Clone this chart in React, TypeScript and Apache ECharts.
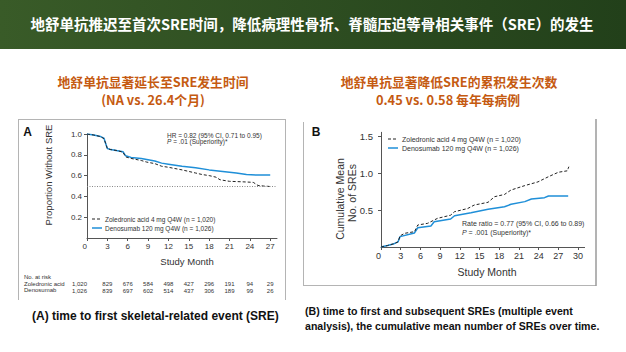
import React, { useEffect, useRef } from "react";
import * as echarts from "echarts";

const headerTitle = "地舒单抗推迟至首次SRE时间，降低病理性骨折、脊髓压迫等骨相关事件（SRE）的发生";
const leftTitle = ["地舒单抗显著延长至SRE发生时间", "(NA vs. 26.4个月)"];
const rightTitle = ["地舒单抗显著降低SRE的累积发生次数", "0.45 vs. 0.58 每年每病例"];
const seriesNames = ["Zoledronic acid 4 mg Q4W (n = 1,020)", "Denosumab 120 mg Q4W (n = 1,026)"];
const captionA = "(A) time to first skeletal-related event (SRE)";
const captionB = [
  "(B) time to first and subsequent SREs (multiple event",
  "analysis), the cumulative mean number of SREs over time.",
];

// Panel A: Kaplan-Meier proportion without SRE
const kmZolMonths = [0, 1, 2, 2.5, 2.8, 3.0, 3.5, 4.5, 5.3, 5.7, 6.5, 8, 8.8, 10, 11, 12, 14, 15, 16, 17, 18, 19, 19.6, 21, 23, 24.5, 25.2, 26, 27];
const kmZolValues = [1.0, 0.99, 0.975, 0.955, 0.9, 0.86, 0.85, 0.84, 0.825, 0.78, 0.765, 0.745, 0.73, 0.715, 0.69, 0.68, 0.655, 0.64, 0.625, 0.61, 0.6, 0.585, 0.56, 0.545, 0.54, 0.535, 0.505, 0.5, 0.495];
const kmDenMonths = [0, 1, 2, 2.5, 2.8, 3.0, 3.5, 4.5, 5.3, 5.7, 6.5, 8, 8.8, 10, 11, 12, 14, 16, 18, 20, 22, 23.5, 25, 27];
const kmDenValues = [1.0, 0.99, 0.975, 0.96, 0.9, 0.86, 0.85, 0.84, 0.83, 0.79, 0.775, 0.765, 0.755, 0.74, 0.72, 0.71, 0.69, 0.675, 0.655, 0.64, 0.625, 0.61, 0.605, 0.605];
const medianLine = 0.5;

// Panel B: cumulative mean number of SREs
const cumZolMonths = [0, 1, 2, 2.6, 2.9, 3.6, 5.1, 5.6, 7.1, 8.6, 10.6, 11.2, 13.2, 14.2, 16.3, 17.3, 18.8, 19.8, 21.9, 23.9, 25.5, 27, 28.4, 28.5, 28.6];
const cumZolValues = [0, 0.02, 0.045, 0.07, 0.15, 0.185, 0.207, 0.297, 0.32, 0.387, 0.43, 0.477, 0.52, 0.567, 0.604, 0.68, 0.71, 0.77, 0.83, 0.88, 0.95, 1.01, 1.03, 1.06, 1.085];
const cumDenMonths = [0, 1, 2, 2.6, 2.9, 5.1, 5.6, 7.6, 8.1, 10.6, 11.2, 13.7, 16.3, 18.8, 19.8, 21.9, 22.9, 24.9, 25.5, 28.5];
const cumDenValues = [0, 0.02, 0.045, 0.07, 0.14, 0.19, 0.26, 0.284, 0.34, 0.378, 0.423, 0.464, 0.509, 0.545, 0.577, 0.613, 0.649, 0.667, 0.69, 0.69];

// Axis ticks
const monthTicksA = [0, 3, 6, 9, 12, 15, 18, 21, 24, 27];
const yTicksA = [0.2, 0.4, 0.6, 0.8, 1.0];
const monthTicksB = [0, 3, 6, 9, 12, 15, 18, 21, 24, 27, 30];
const yTicksB = [0.5, 1.0, 1.5];

// Number at risk
const riskMonths = [0, 3, 6, 9, 12, 15, 18, 21, 24, 27];
const riskZol = ["1,020", "829", "676", "584", "498", "427", "296", "191", "94", "29"];
const riskDen = ["1,026", "839", "697", "602", "514", "437", "306", "189", "99", "26"];

const LAT = "'Liberation Sans', Arial, sans-serif";
const CJK = "'Noto Sans CJK SC', sans-serif";
const BLUE = "#1f8fd8";
const DARK = "#222";
const AXC = "#555";
const TXT = "#333";
const ORANGE = "#c55a11";
const FRAME = "#b4b4b4";

const zip = (a: number[], b: number[]) => a.map((v, i) => [v, b[i]]);

function txt(text: string, x: number, y: number, o: any = {}) {
  const fs = o.fontSize || 8;
  return {
    type: "text",
    x,
    y,
    rotation: o.rotation || 0,
    silent: true,
    style: {
      text,
      fill: o.fill || TXT,
      fontSize: fs,
      fontFamily: o.fontFamily || LAT,
      fontWeight: o.fontWeight || "normal",
      align: o.align || "left",
      verticalAlign: "middle",
      lineHeight: o.lineHeight || Math.round(fs * 1.2),
      rich: o.rich,
    },
  };
}
function ln(x1: number, y1: number, x2: number, y2: number, stroke: string, lineWidth = 1, lineDash?: number[]) {
  return {
    type: "line",
    silent: true,
    shape: { x1, y1, x2, y2 },
    style: { stroke, lineWidth, lineDash },
  };
}

export default function App() {
  const ref = useRef<HTMLDivElement>(null);
  useEffect(() => {
    if (!ref.current) return;
    const chart = echarts.init(ref.current, undefined, { renderer: "svg" });
    const axisLineStyle = { color: AXC, width: 1 };
    const mainX = (grid: number, max: number, ticks: number[], fs: number, margin: number) => ({
      type: "value",
      gridIndex: grid,
      min: 0,
      max,
      axisLine: { show: true, onZero: false, lineStyle: axisLineStyle },
      axisTick: { show: true, length: 3, customValues: ticks, lineStyle: axisLineStyle },
      axisLabel: {
        customValues: ticks,
        fontSize: fs,
        color: TXT,
        fontFamily: LAT,
        margin,
        alignMinLabel: "right",
      },
      splitLine: { show: false },
    });
    const riskX = (vals: string[], offset: number) => ({
      type: "value",
      gridIndex: 0,
      min: 0,
      max: 28,
      position: "bottom",
      offset,
      axisLine: { show: false },
      axisTick: { show: false },
      splitLine: { show: false },
      axisLabel: {
        customValues: riskMonths,
        fontSize: 6,
        color: TXT,
        fontFamily: LAT,
        margin: 2,
        alignMinLabel: "right",
        formatter: (v: number) => vals[riskMonths.indexOf(v)] ?? "",
      },
    });
    const mainY = (grid: number, max: number, ticks: number[], fs: number, margin: number) => ({
      type: "value",
      gridIndex: grid,
      min: 0,
      max,
      axisLine: { show: true, onZero: false, lineStyle: axisLineStyle },
      axisTick: { show: true, length: 3, customValues: ticks, lineStyle: axisLineStyle },
      axisLabel: {
        customValues: ticks,
        fontSize: fs,
        color: TXT,
        fontFamily: LAT,
        margin,
        formatter: (v: number) => v.toFixed(1),
      },
      splitLine: { show: false },
    });

    const header = {
      type: "rect",
      silent: true,
      shape: { x: 0, y: 0, width: 626, height: 49 },
      style: {
        fill: new echarts.graphic.LinearGradient(0, 0, 1, 0, [
          { offset: 0, color: "#395b28" },
          { offset: 1, color: "#22401a" },
        ]),
      },
    };
    const pRich = { i: { fontStyle: "italic", fontSize: 6.5, fontFamily: LAT, fill: TXT } };
    const titleOpt = { fill: ORANGE, fontSize: 12.8, fontWeight: "bold", fontFamily: CJK, align: "center", lineHeight: 15 };

    chart.setOption({
      animation: false,
      backgroundColor: "#ffffff",
      grid: [
        { left: 87, top: 134, width: 190, height: 104 },
        { left: 381, top: 132.3, width: 203.6, height: 114.7 },
      ],
      xAxis: [
        mainX(0, 28, monthTicksA, 8, 4),
        riskX(riskZol, 41),
        riskX(riskDen, 47.5),
        mainX(1, 31, monthTicksB, 9, 4),
      ],
      yAxis: [mainY(0, 1.0, yTicksA, 8, 5), mainY(1, 1.55, yTicksB, 9.5, 8)],
      series: [
        {
          name: seriesNames[0],
          type: "line",
          xAxisIndex: 0,
          yAxisIndex: 0,
          data: zip(kmZolMonths, kmZolValues),
          symbol: "none",
          lineStyle: { color: DARK, width: 1, type: [3, 2] },
          z: 3,
        },
        {
          name: seriesNames[1],
          type: "line",
          xAxisIndex: 0,
          yAxisIndex: 0,
          data: zip(kmDenMonths, kmDenValues),
          symbol: "none",
          lineStyle: { color: BLUE, width: 1.5 },
          z: 2,
          markLine: {
            silent: true,
            symbol: "none",
            label: { show: false },
            lineStyle: { type: [1, 1.5], color: "#888", width: 1 },
            data: [{ yAxis: medianLine }],
          },
        },
        {
          name: seriesNames[0] + " ",
          type: "line",
          xAxisIndex: 3,
          yAxisIndex: 1,
          data: zip(cumZolMonths, cumZolValues),
          symbol: "none",
          lineStyle: { color: DARK, width: 1, type: [3, 2] },
          z: 3,
        },
        {
          name: seriesNames[1] + " ",
          type: "line",
          xAxisIndex: 3,
          yAxisIndex: 1,
          data: zip(cumDenMonths, cumDenValues),
          symbol: "none",
          lineStyle: { color: BLUE, width: 1.5 },
          z: 2,
        },
      ],
      graphic: [
        header,
        txt(headerTitle, 312, 23, { fill: "#ffffff", fontSize: 14.5, fontWeight: "bold", fontFamily: CJK, align: "center" }),
        txt(leftTitle[0], 153, 81, titleOpt),
        txt(leftTitle[1], 153, 99, titleOpt),
        txt(rightTitle[0], 449, 81.5, titleOpt),
        txt(rightTitle[1], 448, 99.5, titleOpt),
        // frames
        ln(18, 119.5, 286, 119.5, FRAME),
        ln(18.5, 119, 18.5, 300, FRAME),
        ln(285.5, 119, 285.5, 300, FRAME),
        ln(303.5, 122, 303.5, 286, FRAME),
        ln(303, 285.5, 596, 285.5, FRAME),
        ln(596, 119, 596, 286, "#9a9a9a", 1.5),
        // panel letters
        txt("A", 27.5, 132, { fontSize: 12, fontWeight: "bold", fill: "#111", align: "center" }),
        txt("B", 316, 132, { fontSize: 12, fontWeight: "bold", fill: "#111", align: "center" }),
        // axis titles
        txt("Proportion Without SRE", 48, 175, { fontSize: 9.5, align: "center", rotation: Math.PI / 2 }),
        txt("Study Month", 187, 261, { fontSize: 9.5, align: "center" }),
        txt("Cumulative Mean", 340, 199, { fontSize: 10.5, align: "center", rotation: Math.PI / 2 }),
        txt("No. of SREs", 352, 193, { fontSize: 10.5, align: "center", rotation: Math.PI / 2 }),
        txt("Study Month", 487, 272, { fontSize: 10.5, align: "center" }),
        // annotations A
        txt("HR = 0.82 (95% CI, 0.71 to 0.95)", 167, 135, { fontSize: 6.5 }),
        txt("{i|P} = .01 (Superiority)*", 167, 141.5, { fontSize: 6.5, rich: pRich }),
        // legend A
        ln(92, 219, 102, 219, DARK, 1, [3, 2]),
        txt(seriesNames[0], 105, 219, { fontSize: 6.5 }),
        ln(92, 228, 102, 228, BLUE, 1.5),
        txt(seriesNames[1], 105, 228, { fontSize: 6.5 }),
        // legend B
        ln(388, 139, 398, 139, DARK, 1, [3, 2]),
        txt(seriesNames[0], 402, 139, { fontSize: 7 }),
        ln(388, 148, 398, 148, BLUE, 1.5),
        txt(seriesNames[1], 402, 148, { fontSize: 7 }),
        // annotations B
        txt("Rate ratio = 0.77 (95% CI, 0.66 to 0.89)", 462, 223, { fontSize: 7 }),
        txt("{i|P} = .001 (Superiority)*", 462, 232, { fontSize: 7, rich: { i: { ...pRich.i, fontSize: 7 } } }),
        // risk table labels
        txt("No. at risk", 24, 277, { fontSize: 6 }),
        txt("Zoledronic acid", 24, 283.5, { fontSize: 6 }),
        txt("Denosumab", 24, 290, { fontSize: 6 }),
        // captions
        txt(captionA, 32, 316, { fontSize: 12, fontWeight: "bold", fill: "#111" }),
        txt(captionB.join("\n"), 305, 318.5, { fontSize: 10.6, fontWeight: "bold", fill: "#111", lineHeight: 15 }),
      ],
    });
    return () => chart.dispose();
  }, []);
  return (
    <div
      ref={ref}
      style={{ position: "absolute", left: 0, top: 0, width: 626, height: 352, background: "#fff" }}
    />
  );
}
